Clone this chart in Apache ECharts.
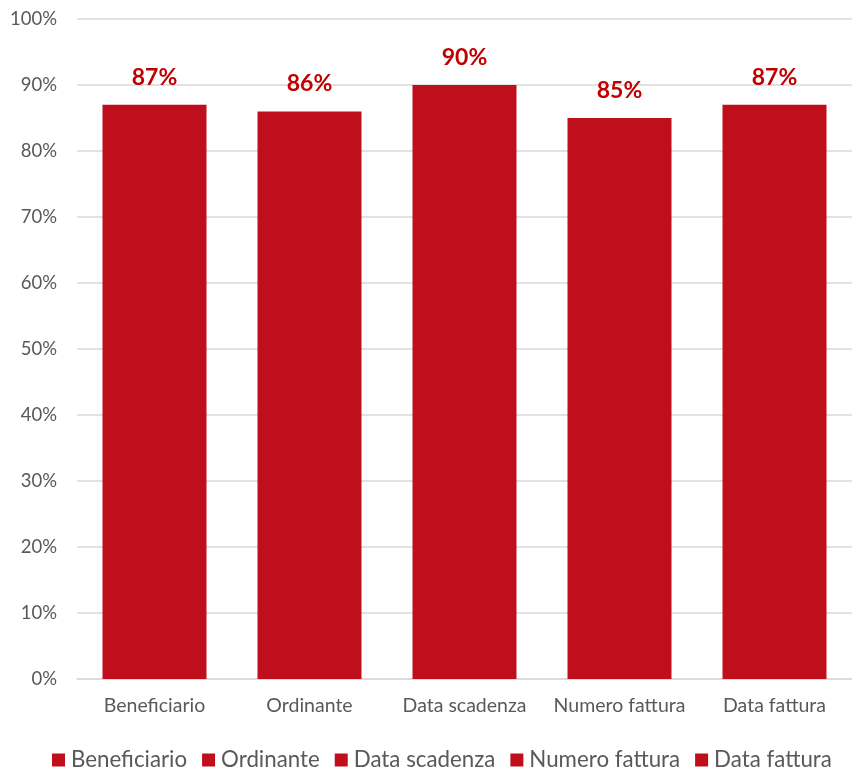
<!DOCTYPE html>
<html>
<head>
<meta charset="utf-8">
<script src="https://cdn.jsdelivr.net/npm/echarts@6/dist/echarts.min.js"></script>
<style>
  html, body { margin: 0; padding: 0; background: #fff; }
  #chart { width: 852px; height: 767px; }
</style>
</head>
<body>
<div id="chart"></div>
<script>
// dati
const categories = ['Beneficiario', 'Ordinante', 'Data scadenza', 'Numero fattura', 'Data fattura']
const values = [87, 86, 90, 85, 87]
const yTicks = [0, 10, 20, 30, 40, 50, 60, 70, 80, 90, 100]

const barColor = '#C00F1C'
const font = 'Lato, "Open Sans", sans-serif'

// una serie per categoria, così la legenda mostra ogni voce
const series = categories.map((name, i) => ({
  name: name,
  type: 'bar',
  stack: 'tot',
  barWidth: 104,
  itemStyle: { color: barColor },
  label: {
    show: true,
    position: 'top',
    distance: 16,
    formatter: '{c}%',
    color: '#C00000',
    fontWeight: 'bold',
    fontSize: 23,
    fontFamily: font
  },
  data: categories.map((c, j) => (j === i ? values[i] : '-'))
}))

const myChart = echarts.init(document.getElementById('chart'))
myChart.setOption({
  animation: false,
  grid: {
    left: 77,
    right: -3,
    top: 19,
    bottom: 88
  },
  legend: {
    bottom: -9,
    left: 47,
    itemWidth: 13,
    itemHeight: 13,
    itemGap: 15,
    icon: 'rect',
    textStyle: {
      color: '#595959',
      fontSize: 22.3,
      fontFamily: font,
      padding: [0, 0, 0, 1]
    },
    data: categories
  },
  xAxis: {
    type: 'category',
    data: categories,
    axisTick: { show: false },
    axisLine: { lineStyle: { color: '#D9D9D9', width: 1.5 } },
    axisLabel: {
      interval: 0,
      hideOverlap: false,
      color: '#595959',
      fontSize: 19.5,
      fontFamily: font,
      margin: 17
    }
  },
  yAxis: {
    type: 'value',
    min: yTicks[0],
    max: yTicks[yTicks.length - 1],
    interval: 10,
    axisLine: { show: false },
    axisTick: { show: false },
    splitLine: { lineStyle: { color: '#D9D9D9', width: 1.5 } },
    axisLabel: {
      formatter: '{value}%',
      color: '#595959',
      fontSize: 18.5,
      fontFamily: font,
      margin: 20
    }
  },
  series: series
})
</script>
</body>
</html>
